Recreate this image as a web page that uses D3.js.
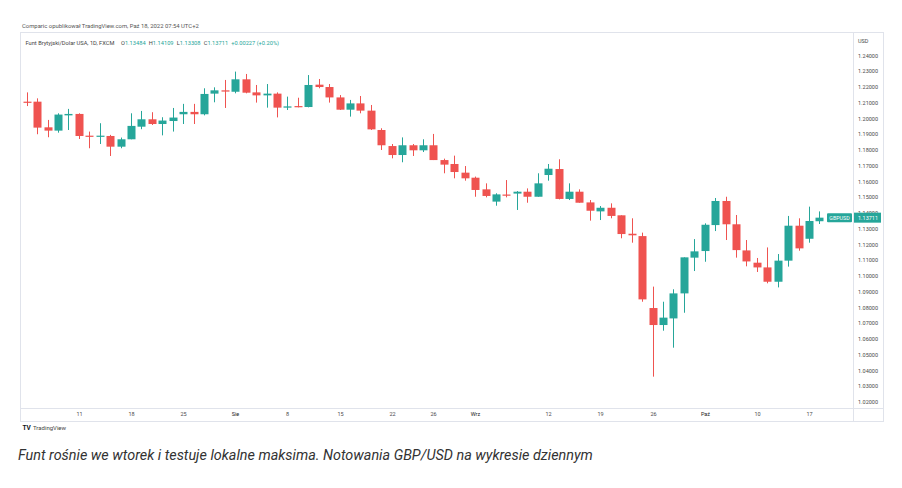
<!DOCTYPE html>
<html>
<head>
<meta charset="utf-8">
<script src="https://cdn.jsdelivr.net/npm/d3@7"></script>
<style>
  body { margin: 0; background: #fff; }
  text { font-family: Roboto, "Liberation Sans", sans-serif; }
</style>
</head>
<body>
<div id="chart"></div>
<script>
// ---------------------------------- data (GBP/USD, 1D, FXCM) ----------------------------------
let dates = [
  '2022-07-04', '2022-07-05', '2022-07-06', '2022-07-07', '2022-07-08',
  '2022-07-11', '2022-07-12', '2022-07-13', '2022-07-14', '2022-07-15',
  '2022-07-18', '2022-07-19', '2022-07-20', '2022-07-21', '2022-07-22',
  '2022-07-25', '2022-07-26', '2022-07-27', '2022-07-28', '2022-07-29',
  '2022-08-01', '2022-08-02', '2022-08-03', '2022-08-04', '2022-08-05',
  '2022-08-08', '2022-08-09', '2022-08-10', '2022-08-11', '2022-08-12',
  '2022-08-15', '2022-08-16', '2022-08-17', '2022-08-18', '2022-08-19',
  '2022-08-22', '2022-08-23', '2022-08-24', '2022-08-25', '2022-08-26',
  '2022-08-29', '2022-08-30', '2022-08-31', '2022-09-01', '2022-09-02',
  '2022-09-05', '2022-09-06', '2022-09-07', '2022-09-08', '2022-09-09',
  '2022-09-12', '2022-09-13', '2022-09-14', '2022-09-15', '2022-09-16',
  '2022-09-19', '2022-09-20', '2022-09-21', '2022-09-22', '2022-09-23',
  '2022-09-26', '2022-09-27', '2022-09-28', '2022-09-29', '2022-09-30',
  '2022-10-03', '2022-10-04', '2022-10-05', '2022-10-06', '2022-10-07',
  '2022-10-10', '2022-10-11', '2022-10-12', '2022-10-13', '2022-10-14',
  '2022-10-17', '2022-10-18'
];
let open = [
  1.2108, 1.2108, 1.1945, 1.1924, 1.2021,
  1.2030, 1.1892, 1.1888, 1.1890, 1.1822,
  1.1869, 1.1949, 1.1996, 1.1966, 1.1985,
  1.2028, 1.2043, 1.2028, 1.2159, 1.2180,
  1.2171, 1.2250, 1.2167, 1.2148, 1.2159,
  1.2070, 1.2080, 1.2074, 1.2216, 1.2201,
  1.2135, 1.2057, 1.2097, 1.2051, 1.1928,
  1.1826, 1.1769, 1.1831, 1.1799, 1.1831,
  1.1737, 1.1712, 1.1657, 1.1625, 1.1551,
  1.1473, 1.1518, 1.1524, 1.1536, 1.1504,
  1.1642, 1.1680, 1.1490, 1.1536, 1.1468,
  1.1411, 1.1434, 1.1386, 1.1269, 1.1254,
  1.0797, 1.0689, 1.0731, 1.0890, 1.1117,
  1.1159, 1.1324, 1.1477, 1.1329, 1.1163,
  1.1085, 1.1055, 1.0964, 1.1098, 1.1320,
  1.1237, 1.13484
];
let high = [
  1.2167, 1.2129, 1.1992, 1.2034, 1.2062,
  1.2034, 1.1918, 1.1971, 1.1897, 1.1880,
  1.2034, 1.2049, 1.2041, 1.2009, 1.2068,
  1.2094, 1.2094, 1.2193, 1.2199, 1.2246,
  1.2299, 1.2284, 1.2214, 1.2220, 1.2167,
  1.2140, 1.2133, 1.2277, 1.2252, 1.2220,
  1.2150, 1.2119, 1.2144, 1.2087, 1.1939,
  1.1839, 1.1881, 1.1839, 1.1869, 1.1903,
  1.1746, 1.1765, 1.1699, 1.1632, 1.1589,
  1.1526, 1.1610, 1.1540, 1.1557, 1.1653,
  1.1712, 1.1742, 1.1589, 1.1551, 1.1483,
  1.1445, 1.1462, 1.1386, 1.1367, 1.1276,
  1.0933, 1.0837, 1.0916, 1.1119, 1.1235,
  1.1335, 1.1496, 1.1504, 1.1388, 1.1229,
  1.1115, 1.1182, 1.1140, 1.1382, 1.1367,
  1.1441, 1.14109
];
let low = [
  1.2080, 1.1901, 1.1882, 1.1911, 1.1928,
  1.1871, 1.1812, 1.1839, 1.1763, 1.1812,
  1.1869, 1.1933, 1.1960, 1.1894, 1.1918,
  1.1966, 1.1966, 1.2021, 1.2104, 1.2068,
  1.2161, 1.2161, 1.2102, 1.2070, 1.2008,
  1.2055, 1.2072, 1.2072, 1.2193, 1.2102,
  1.2055, 1.2013, 1.2034, 1.1928, 1.1801,
  1.1748, 1.1723, 1.1763, 1.1788, 1.1737,
  1.1653, 1.1621, 1.1606, 1.1504, 1.1500,
  1.1447, 1.1500, 1.1420, 1.1466, 1.1504,
  1.1606, 1.1487, 1.1483, 1.1466, 1.1352,
  1.1356, 1.1367, 1.1240, 1.1212, 1.0837,
  1.0361, 1.0653, 1.0545, 1.0767, 1.1032,
  1.1091, 1.1286, 1.1229, 1.1117, 1.1062,
  1.1026, 1.0954, 1.0928, 1.1060, 1.1161,
  1.1212, 1.13308
];
let close = [
  1.2104, 1.1943, 1.1924, 1.2026, 1.2030,
  1.1890, 1.1886, 1.1892, 1.1822, 1.1869,
  1.1954, 1.1996, 1.1966, 1.1988, 1.2007,
  1.2043, 1.2028, 1.2157, 1.2180, 1.2172,
  1.2250, 1.2165, 1.2148, 1.2159, 1.2070,
  1.2078, 1.2074, 1.2214, 1.2201, 1.2135,
  1.2057, 1.2097, 1.2051, 1.1932, 1.1831,
  1.1769, 1.1831, 1.1799, 1.1831, 1.1737,
  1.1708, 1.1661, 1.1621, 1.1547, 1.1509,
  1.1519, 1.1516, 1.1536, 1.1504, 1.1589,
  1.1682, 1.1490, 1.1536, 1.1466, 1.1415,
  1.1434, 1.1382, 1.1267, 1.1259, 1.0852,
  1.0689, 1.0736, 1.0890, 1.1119, 1.1157,
  1.1326, 1.1477, 1.1329, 1.1165, 1.1093,
  1.1055, 1.0964, 1.1098, 1.1320, 1.1176,
  1.1350, 1.13711
];

let priceTicks = [1.02, 1.03, 1.04, 1.05, 1.06, 1.07, 1.08, 1.09, 1.10, 1.11, 1.12,
  1.13, 1.14, 1.15, 1.16, 1.17, 1.18, 1.19, 1.20, 1.21, 1.22, 1.23, 1.24];
let timeTickDates = ['2022-07-11', '2022-07-18', '2022-07-25', '2022-08-01', '2022-08-08', '2022-08-15',
  '2022-08-22', '2022-08-26', '2022-09-01', '2022-09-12', '2022-09-19', '2022-09-26', '2022-10-03',
  '2022-10-10', '2022-10-17'];
let timeTickLabels = ['11', '18', '25', 'Sie', '8', '15', '22', '26', 'Wrz', '12', '19', '26', 'Paź', '10', '17'];
let monthLabels = ['Sie', 'Wrz', 'Paź'];

let lastPrice = 1.13711;
let symbol = 'GBPUSD';

//--------------------------------------Set up Canvas-------------------------------------------------------------//
let w = 902,
  h = 488;
let frame = {left: 20, right: 883, top: 32, bottom: 421};
let plot = {left: 22, right: 853, top: 32, bottom: 408};

let up = '#26a69a',
  down = '#ef5350',
  lineColor = '#e0e3eb',
  labelColor = '#4a4a4a';

let candles = dates.map(function (d, i) {
  return {date: d, o: open[i], h: high[i], l: low[i], c: close[i]};
});

let svg = d3.select('#chart').append('svg')
  .attr('width', w)
  .attr('height', h);

// Create scales
let xScale = d3.scaleBand()
  .domain(dates)
  .range([21.5, 824.6])
  .paddingInner(0.25)
  .paddingOuter(0.125);
let yScale = d3.scaleLinear().domain([1.02, 1.24]).range([402, 55.7]);

let cx = d => Math.round(xScale(d) + xScale.bandwidth() / 2) + 0.5;

// Header
svg.append('text')
  .text('Comparic opublikował TradingView.com, Paź 18, 2022 07:54 UTC+2')
  .attr('x', 22)
  .attr('y', 27.5)
  .style('font-size', '5.9px')
  .style('fill', '#555');

// Frame and pane separators
svg.append('rect')
  .attr('x', frame.left + 0.5)
  .attr('y', frame.top + 0.5)
  .attr('width', frame.right - frame.left)
  .attr('height', frame.bottom - frame.top)
  .style('fill', 'none')
  .style('stroke', lineColor);
svg.append('line')
  .attr('x1', frame.left).attr('x2', frame.right)
  .attr('y1', plot.bottom + 0.5).attr('y2', plot.bottom + 0.5)
  .style('stroke', lineColor);
svg.append('line')
  .attr('x1', plot.right + 0.5).attr('x2', plot.right + 0.5)
  .attr('y1', frame.top).attr('y2', frame.bottom)
  .style('stroke', lineColor);

// Legend line
let legend = svg.append('text')
  .attr('y', 44.5)
  .style('font-size', '5.7px')
  .style('fill', '#444');
legend.append('tspan').attr('x', 25.5).text('Funt Brytyjski/Dolar USA, 1D, FXCM');
let ohlc = [['O', open], ['H', high], ['L', low], ['C', close]];
ohlc.forEach(function (p, i) {
  let t = legend.append('tspan').text(p[0]);
  if (i === 0) t.attr('x', 121); else t.attr('dx', 3.2);
  legend.append('tspan').style('fill', up).text(d3.format('.5f')(p[1][p[1].length - 1]));
});
legend.append('tspan').attr('dx', 3.2).style('fill', up)
  .text('+0.00227 (+0.20%)');

//-----------------------------------------------Draw candles---------------------------------------------------//
let g = svg.append('g');

g.selectAll('line.wick')
  .data(candles)
  .enter()
  .append('line')
  .attr('class', 'wick')
  .attr('x1', d => cx(d.date))
  .attr('x2', d => cx(d.date))
  .attr('y1', d => yScale(d.h))
  .attr('y2', d => yScale(d.l))
  .style('stroke', d => d.c >= d.o ? up : down)
  .style('stroke-width', 1);

g.selectAll('rect.body')
  .data(candles)
  .enter()
  .append('rect')
  .attr('class', 'body')
  .attr('x', d => cx(d.date) - 4)
  .attr('width', 8)
  .attr('y', d => yScale(Math.max(d.o, d.c)))
  .attr('height', d => Math.max(1.2, Math.abs(yScale(d.o) - yScale(d.c))))
  .style('fill', d => d.c >= d.o ? up : down);

// Add Axes
svg.append('text')
  .text('USD')
  .attr('x', 858)
  .attr('y', 43)
  .style('font-size', '5.5px')
  .style('fill', labelColor);

svg.append('g')
  .selectAll('text')
  .data(priceTicks)
  .enter()
  .append('text')
  .text(d => d3.format('.5f')(d))
  .attr('x', 858)
  .attr('y', d => yScale(d) + 2)
  .style('font-size', '5.5px')
  .style('fill', labelColor);

svg.append('g')
  .selectAll('text')
  .data(timeTickDates)
  .enter()
  .append('text')
  .text((d, i) => timeTickLabels[i])
  .attr('x', d => cx(d))
  .attr('y', 416)
  .attr('text-anchor', 'middle')
  .style('font-size', '5.5px')
  .style('fill', (d, i) => monthLabels.includes(timeTickLabels[i]) ? '#222' : labelColor);

// Last price and symbol labels
let py = yScale(lastPrice);
svg.append('rect')
  .attr('x', plot.right + 1)
  .attr('y', py - 5)
  .attr('width', 27)
  .attr('height', 10)
  .style('fill', up);
svg.append('text')
  .text(d3.format('.5f')(lastPrice))
  .attr('x', 858)
  .attr('y', py + 2)
  .style('font-size', '5.5px')
  .style('fill', '#fff');
svg.append('rect')
  .attr('x', 827)
  .attr('y', py - 4.5)
  .attr('width', 25)
  .attr('height', 9)
  .attr('rx', 1)
  .style('fill', up);
svg.append('text')
  .text(symbol)
  .attr('x', 839.5)
  .attr('y', py + 2)
  .attr('text-anchor', 'middle')
  .style('font-size', '5.3px')
  .style('fill', '#fff');

// TradingView mark
svg.append('text')
  .text('TV')
  .attr('x', 22.5)
  .attr('y', 429.5)
  .style('font-size', '6.5px')
  .style('font-weight', 'bold')
  .style('fill', '#131722');
svg.append('text')
  .text('TradingView')
  .attr('x', 33)
  .attr('y', 429.5)
  .style('font-size', '6px')
  .style('fill', '#444');

// Caption
svg.append('text')
  .text('Funt rośnie we wtorek i testuje lokalne maksima. Notowania GBP/USD na wykresie dziennym')
  .attr('x', 18)
  .attr('y', 460)
  .style('font-size', '14.4px')
  .style('font-style', 'italic')
  .style('fill', '#333');
</script>
</body>
</html>
